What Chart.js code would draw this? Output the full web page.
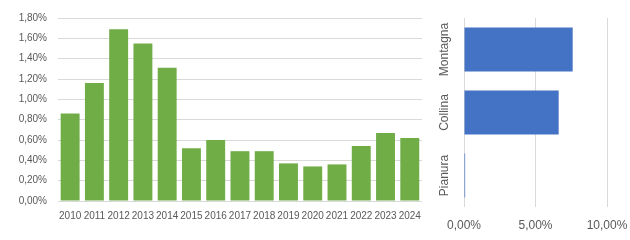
<!DOCTYPE html>
<html>
<head>
<meta charset="utf-8">
<script src="https://cdn.jsdelivr.net/npm/chart.js@4"></script>
<style>
  html, body { margin: 0; padding: 0; background: #fff; }
  #wrap { position: relative; width: 630px; height: 240px; }
  #boxYears { position: absolute; left: 0; top: 0; width: 430px; height: 240px; }
  #boxZone { position: absolute; left: 430px; top: 0; width: 200px; height: 240px; }
</style>
</head>
<body>
<div id="wrap">
  <div id="boxYears"><canvas id="chartYears"></canvas></div>
  <div id="boxZone"><canvas id="chartZone"></canvas></div>
</div>
<script>
// dati (valori in %)
const years = ['2010','2011','2012','2013','2014','2015','2016','2017','2018','2019','2020','2021','2022','2023','2024'];
const yearValues = [0.86, 1.16, 1.69, 1.55, 1.31, 0.52, 0.60, 0.49, 0.49, 0.37, 0.34, 0.36, 0.54, 0.67, 0.62];
const zones = ['Montagna', 'Collina', 'Pianura'];
const zoneValues = [7.6, 6.62, 0.08];

const GREEN = '#70AD47';
const BLUE = '#4472C4';
const TEXT = '#595959';
const GRID = '#D9D9D9';
const FONT = '"Liberation Sans", Arial, sans-serif';

const pct = v => Number(v).toFixed(2).replace('.', ',') + '%';

Chart.defaults.font.family = FONT;
Chart.defaults.color = TEXT;

new Chart(document.getElementById('chartYears'), {
  type: 'bar',
  data: {
    labels: years,
    datasets: [{
      data: yearValues,
      backgroundColor: GREEN,
      barPercentage: 0.78,
      categoryPercentage: 1
    }]
  },
  options: {
    responsive: true,
    maintainAspectRatio: false,
    animation: false,
    layout: { padding: { top: 18, right: 3, left: 0, bottom: 0 } },
    plugins: { legend: { display: false }, tooltip: { enabled: false } },
    scales: {
      x: {
        grid: { display: false, drawTicks: false },
        border: { color: GRID, width: 1 },
        ticks: { font: { size: 10 }, color: TEXT, padding: 9, maxRotation: 0, autoSkip: false },
        afterFit: s => { s.height = 39; }
      },
      y: {
        min: 0,
        max: 1.8,
        grid: { color: GRID, drawTicks: false },
        border: { display: false },
        ticks: { stepSize: 0.2, font: { size: 10 }, color: TEXT, padding: 11, callback: v => pct(v) },
        afterFit: s => { s.width = 58; }
      }
    }
  }
});

// etichette verticali delle zone
const zoneLabels = {
  id: 'zoneLabels',
  afterDraw(chart) {
    const s = chart.scales.y;
    const ctx = chart.ctx;
    ctx.save();
    ctx.font = '12px ' + FONT;
    ctx.fillStyle = TEXT;
    ctx.textAlign = 'center';
    ctx.textBaseline = 'middle';
    zones.forEach((z, i) => {
      ctx.save();
      ctx.translate(15, s.getPixelForTick(i));
      ctx.rotate(-Math.PI / 2);
      ctx.fillText(z, 0, 0);
      ctx.restore();
    });
    ctx.restore();
  }
};

new Chart(document.getElementById('chartZone'), {
  type: 'bar',
  data: {
    labels: zones,
    datasets: [{
      data: zoneValues,
      backgroundColor: BLUE,
      barPercentage: 0.7,
      categoryPercentage: 1
    }]
  },
  options: {
    indexAxis: 'y',
    responsive: true,
    maintainAspectRatio: false,
    animation: false,
    layout: { padding: { top: 18, right: 23, left: 0, bottom: 0 } },
    plugins: { legend: { display: false }, tooltip: { enabled: false } },
    scales: {
      x: {
        min: 0,
        max: 10,
        grid: { color: GRID, drawTicks: false },
        border: { display: false },
        ticks: { stepSize: 5, font: { size: 12 }, color: TEXT, padding: 11, maxRotation: 0, callback: v => pct(v) },
        afterFit: s => { s.height = 33; s.paddingLeft = 0; s.paddingRight = 0; }
      },
      y: {
        grid: { display: false, drawTicks: false },
        border: { display: false },
        ticks: { display: false },
        afterFit: s => { s.width = 34; s.paddingTop = 0; s.paddingBottom = 0; }
      }
    }
  },
  plugins: [zoneLabels]
});
</script>
</body>
</html>
